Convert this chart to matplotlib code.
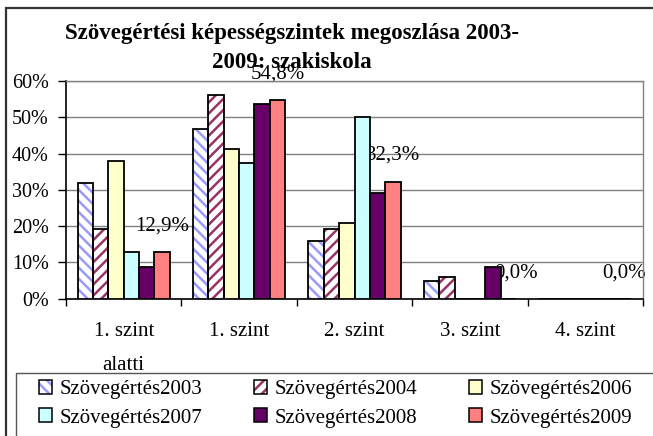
import matplotlib
matplotlib.use('Agg')
import matplotlib.pyplot as plt
from matplotlib.patches import Patch, Rectangle
from matplotlib.ticker import FixedLocator, FuncFormatter
import numpy as np

# data (percent)
categories = ['1. szint\nalatti', '1. szint', '2. szint', '3. szint', '4. szint']
series_names = ['Szövegértés2003', 'Szövegértés2004', 'Szövegértés2006',
                'Szövegértés2007', 'Szövegértés2008', 'Szövegértés2009']
s2003 = [32.0, 46.8, 15.9, 5.0, 0.0]
s2004 = [19.3, 56.2, 19.3, 6.0, 0.0]
s2006 = [38.0, 41.3, 20.9, 0.0, 0.0]
s2007 = [12.8, 37.4, 50.1, 0.0, 0.0]
s2008 = [8.8, 53.6, 29.2, 8.8, 0.0]
s2009 = [12.9, 54.8, 32.3, 0.0, 0.0]
values = [s2003, s2004, s2006, s2007, s2008, s2009]

# (facecolor, hatch, hatch colour)
styles = [('white', '\\\\\\', '#9999FF'),
          ('white', '///', '#993366'),
          ('#FFFFCC', None, None),
          ('#CCFFFF', None, None),
          ('#660066', None, None),
          ('#FF8080', None, None)]

plt.rcParams['font.family'] = ['Liberation Serif', 'DejaVu Serif']
plt.rcParams['hatch.linewidth'] = 1.8

W, H = 653, 436
fig = plt.figure(figsize=(W / 100, H / 100), dpi=100)
ax = fig.add_axes([66 / W, 1 - 298.7 / H, 577 / W, 217.7 / H])

x = np.arange(len(categories))
w = 0.8 / 6
handles = []
for j, (vals, (fc, hatch, hc)) in enumerate(zip(values, styles)):
    pos = x + (j - 2.5) * w
    if hatch:
        ax.bar(pos, vals, w, color=fc, hatch=hatch, edgecolor=hc, lw=0, zorder=3)
        ax.bar(pos, vals, w, fill=False, edgecolor='black', lw=1.3, zorder=4)
        h = (Patch(facecolor=fc, hatch=hatch, edgecolor=hc, lw=0),
             Patch(fill=False, edgecolor='black', lw=1.1))
    else:
        ax.bar(pos, vals, w, color=fc, edgecolor='black', lw=1.3, zorder=3)
        h = Patch(facecolor=fc, edgecolor='black', lw=1.1)
    handles.append(h)

# data labels for the 2009 series (drawn underneath the bars, as in the source)
label_dx = [0, 0, 0, 8, 0]  # px nudge, the 3. szint label sits a bit right
for xi, v, dx in zip(x + 2.5 * w, s2009, label_dx):
    ax.annotate(f'{v:.1f}%'.replace('.', ','), (xi, v), xytext=(dx * 0.72, 18.7),
                textcoords='offset points', ha='center', va='center',
                fontsize=15, zorder=2, annotation_clip=False)

ax.set_xlim(-0.5, len(categories) - 0.5)
ax.set_ylim(0, 60)
ax.set_yticks(np.arange(0, 61, 10))
ax.yaxis.set_major_formatter(FuncFormatter(lambda v, p: f'{v:.0f}%'))
ax.tick_params(axis='y', length=6, width=1, pad=6.5, labelsize=14.5, direction='out')
ax.yaxis.grid(True, color='#808080', lw=1)
ax.set_axisbelow(True)

ax.xaxis.set_major_locator(FixedLocator(np.arange(-0.5, len(categories), 1)))
ax.xaxis.set_minor_locator(FixedLocator(x))
ax.set_xticklabels([], minor=False)
ax.set_xticklabels(categories, minor=True, linespacing=2.05)
ax.tick_params(axis='x', which='major', length=5, width=1, direction='out')
ax.tick_params(axis='x', which='minor', length=0, pad=17, labelsize=15)
for lbl in ax.get_xticklabels(minor=True):
    lbl.set_va('top')

for side in ['left', 'bottom']:
    ax.spines[side].set_color('black')
    ax.spines[side].set_linewidth(1.2)
for side in ['top', 'right']:
    ax.spines[side].set_color('#808080')
    ax.spines[side].set_linewidth(1)

# title
fig.text(292 / W, 1 - 33 / H, 'Szövegértési képességszintek megoszlása 2003-',
         ha='center', va='center', fontsize=16.5, fontweight='bold')
fig.text(292 / W, 1 - 62 / H, '2009: szakiskola',
         ha='center', va='center', fontsize=16.5, fontweight='bold')

# legend (column-major order for a 3-wide grid)
order = [0, 3, 1, 4, 2, 5]
fig.legend([handles[i] for i in order], [series_names[i] for i in order],
           ncol=3, loc='upper left', bbox_to_anchor=(39 / W, 1 - 380 / H),
           bbox_transform=fig.transFigure, frameon=False, fontsize=15,
           handlelength=0.62, handleheight=0.62, handletextpad=0.35,
           columnspacing=2.5, labelspacing=0.45, borderpad=0, borderaxespad=0)

# legend frame and chart-area border (both run off the cropped image)
fig.add_artist(Rectangle((16 / W, -0.2), 1.2, 0.2 + (H - 372.7) / H,
                         transform=fig.transFigure, fill=False,
                         edgecolor='#555555', lw=1))
fig.add_artist(Rectangle((6 / W, -0.2), 1.2, 0.2 + (H - 8) / H,
                         transform=fig.transFigure, fill=False,
                         edgecolor='#333333', lw=1.6))

fig.savefig('out.png', dpi=100)
